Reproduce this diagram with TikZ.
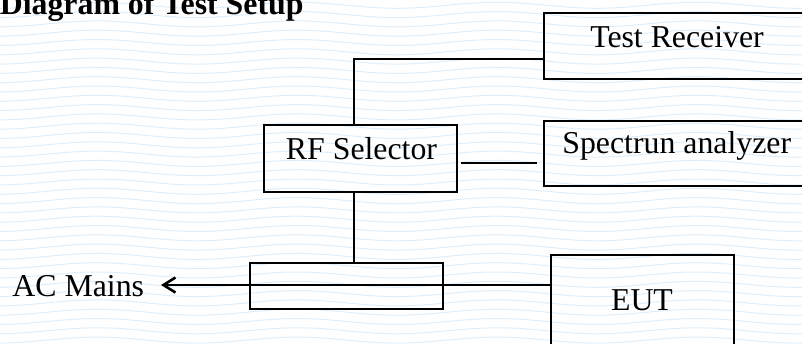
\documentclass[tikz,border=0pt]{standalone}
\usepackage{fontspec}
\setmainfont{Liberation Serif}
\usetikzlibrary{arrows.meta,fit}
\definecolor{wavecol}{RGB}{222,239,251}
\tikzset{
  box/.style={draw=black, line width=1pt, inner sep=0pt, rectangle},
  lbl/.style={anchor=base, inner sep=0pt, font=\fontsize{15.9}{19}\selectfont},
  wire/.style={draw=black, line width=1pt},
  wave/.style={draw=wavecol, line width=0.5pt},
}
\begin{document}
\begin{tikzpicture}[x=0.5pt, y=-0.5pt]
\useasboundingbox (0,0) rectangle (802,343);
\clip (0,0) rectangle (802,343);
\fill[white] (0,0) rectangle (802,343);
% background watermark waves
\foreach \k in {0,...,38}{
  \draw[wave] plot[domain=-10:812, samples=60, smooth] (\x, {\k*9.3 - 4 - 3*cos((\x-97)*1.8)});
}
% title
\node[lbl, anchor=base west, font=\fontsize{15.9}{19}\selectfont\bfseries] (title) at (-0.5,14) {Diagram of Test Setup};
% boxes
\node[box, fit={(544,13) (815,79)}] (trx) {};
\node[box, fit={(264,125) (457,192)}] (rfs) {};
\node[box, fit={(544,121) (815,186)}] (spa) {};
\node[box, fit={(250,263) (443,309)}] (lisn) {};
\node[box, fit={(551,255) (734,360)}] (eut) {};
% labels
\node[lbl] (trxt) at (677,47) {Test Receiver};
\node[lbl] (rfst) at (361.5,159) {RF Selector};
\node[lbl, anchor=base west] (spat) at (562,153) {Spectrun analyzer};
\node[lbl] (eutt) at (642,310) {EUT};
\node[lbl, anchor=base west] (ac) at (12,296) {AC Mains};
% helper coordinates
\coordinate (c1) at (354,59);
\coordinate (y163) at (0,163);
\coordinate (y285) at (0,285);
\coordinate (tip) at (161,285);
% connectors
\draw[wire] (c1 -| trx.west) -- (c1) -- (c1 |- rfs.north);
\draw[wire, shorten <=1.5pt, shorten >=3pt] (rfs.east |- y163) -- (spa.west |- y163);
\draw[wire] (c1 |- rfs.south) -- (c1 |- lisn.north);
\draw[black, line width=0.75pt] (eut.west |- y285) -- (lisn.west |- y285);
\draw[black, line width=1.3pt, -{Straight Barb[length=6pt, width=7.5pt, line width=1.3pt]}] (lisn.west |- y285) -- (tip);
\end{tikzpicture}
\end{document}
